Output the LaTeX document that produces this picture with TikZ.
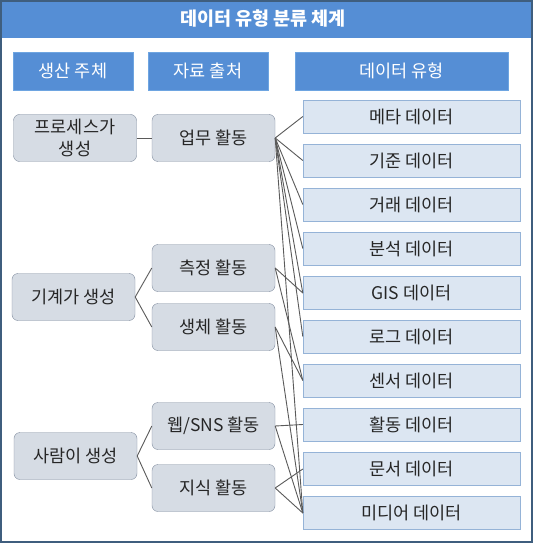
\documentclass[tikz,border=0pt]{standalone}
\usepackage{fontspec}
\setmainfont{Noto Sans CJK KR}
\usetikzlibrary{positioning}
\definecolor{headblue}{RGB}{85,142,213}
\definecolor{headline}{RGB}{110,165,225}
\definecolor{framecol}{RGB}{63,94,126}
\definecolor{boxgray}{RGB}{214,220,228}
\definecolor{boxline}{RGB}{128,140,158}
\definecolor{kindblue}{RGB}{220,230,242}
\definecolor{kindline}{RGB}{149,179,215}
\definecolor{linkgray}{RGB}{90,90,90}
\definecolor{textgray}{RGB}{38,38,38}

\begin{document}
\begin{tikzpicture}[x=1pt, y=-1pt,
  every node/.style={font=\fontsize{17.5}{21}\selectfont},
  head/.style={draw=headline, fill=headblue, text=white, minimum height=38pt, inner sep=0pt},
  who/.style={draw=boxline, fill=boxgray, rounded corners=6pt, minimum width=123pt, minimum height=47pt, inner sep=0pt, align=center, text=textgray},
  kind/.style={draw=kindline, fill=kindblue, minimum width=217pt, minimum height=33pt, inner sep=0pt, text=textgray},
  link/.style={draw=linkgray, line width=0.9pt}]
\useasboundingbox (0,0) rectangle (535,545);
\fill[white] (0,0) rectangle (535,545);

% title and frame
\fill[headblue] (0,0) rectangle (532,38);
\draw[framecol, line width=2pt] (1,1) rectangle (531.5,541.5);
\node (title) [text=white, font=\fontsize{18.5}{22}\selectfont\bfseries] at (263,19) {데이터 유형 분류 체계};

% column heads
\node (hwho)  [head, minimum width=120pt] at (73,71)    {생산 주체};
\node (hsrc)  [head, minimum width=120pt] at (208,71)   {자료 출처};
\node (hkind) [head, minimum width=213pt] at (401.5,71) {데이터 유형};

% producers
\node (proc)  [who] at (75,138)    {프로세스가\\[1pt]생성};
\node (mach)  [who] at (73.5,297)  {기계가 생성};
\node (human) [who] at (75.5,456)  {사람이 생성};

% sources
\node (work)    [who] at (213.5,138) {업무 활동};
\node (measure) [who] at (213.5,268) {측정 활동};
\node (bio)     [who] at (213.5,327) {생체 활동};
\node (web)     [who] at (213.5,426) {웹/SNS 활동};
\node (know)    [who] at (213.5,488) {지식 활동};

% data kinds
\node (meta)   [kind] at (411.5,116.5) {메타 데이터};
\node (std)    [kind] at (411.5,160.5) {기준 데이터};
\node (trade)  [kind] at (411.5,204.5) {거래 데이터};
\node (anal)   [kind] at (411.5,248.5) {분석 데이터};
\node (gis)    [kind] at (411.5,293)   {GIS 데이터};
\node (log)    [kind] at (411.5,336.5) {로그 데이터};
\node (sensor) [kind] at (411.5,380.5) {센서 데이터};
\node (act)    [kind] at (411.5,424.5) {활동 데이터};
\node (doc)    [kind] at (411.5,469)   {문서 데이터};
\node (media)  [kind] at (411.5,513)   {미디어 데이터};

% producer to source
\draw[link] (proc.east) -- (work.west);
\draw[link] (mach.east) -- (measure.west);
\draw[link] (mach.east) -- (bio.west);
\draw[link] (human.east) -- (web.west);
\draw[link] (human.east) -- (know.west);

% source to kind
\draw[link] (work.east) -- (meta.west);
\draw[link] (work.east) -- (std.west);
\draw[link] (work.east) -- (trade.west);
\draw[link] (work.east) -- (anal.west);
\draw[link] (work.east) -- (gis.west);
\draw[link] (work.east) -- (log.west);
\draw[link] (work.east) -- (media.west);
\draw[link] (measure.east) -- (gis.west);
\draw[link] (measure.east) -- (sensor.west);
\draw[link] (bio.east) -- (sensor.west);
\draw[link] (bio.east) -- (media.west);
\draw[link] (web.east) -- (act.west);
\draw[link] (web.east) -- (media.west);
\draw[link] (know.east) -- (doc.west);
\draw[link] (know.east) -- (media.west);
\end{tikzpicture}
\end{document}
